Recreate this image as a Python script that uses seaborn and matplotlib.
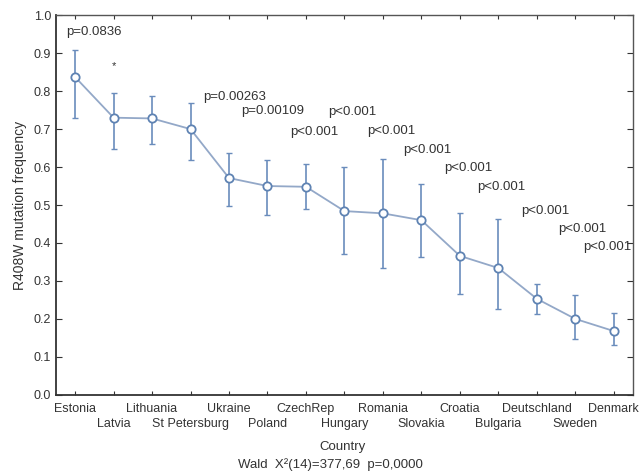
import matplotlib
matplotlib.use('Agg')
import numpy as np
import pandas as pd
import seaborn as sns
import matplotlib.pyplot as plt

## data
countries = ['Estonia', 'Latvia', 'Lithuania', 'St Petersburg', 'Ukraine', 'Poland',
             'CzechRep', 'Hungary', 'Romania', 'Slovakia', 'Croatia', 'Bulgaria',
             'Deutschland', 'Sweden', 'Denmark']
freq  = [0.837, 0.730, 0.728, 0.700, 0.571, 0.550, 0.548, 0.484, 0.478, 0.460,
         0.366, 0.334, 0.253, 0.200, 0.168]
upper = [0.908, 0.795, 0.787, 0.768, 0.637, 0.618, 0.608, 0.600, 0.621, 0.555,
         0.479, 0.463, 0.292, 0.263, 0.216]
lower = [0.730, 0.647, 0.660, 0.618, 0.497, 0.474, 0.490, 0.371, 0.335, 0.363,
         0.266, 0.226, 0.213, 0.147, 0.130]

p_labels = ['p=0.0836', 'p=0.00263', 'p=0.00109', 'p<0.001', 'p<0.001', 'p<0.001',
            'p<0.001', 'p<0.001', 'p<0.001', 'p<0.001', 'p<0.001', 'p<0.001']
p_x = [-0.23, 3.32, 4.31, 5.58, 6.57, 7.58, 8.52, 9.58, 10.44, 11.6, 12.55, 13.2]
p_y = [0.955, 0.784, 0.747, 0.692, 0.745, 0.695, 0.645, 0.598, 0.548, 0.485, 0.437, 0.39]

yticks = [0.0, 0.1, 0.2, 0.3, 0.4, 0.5, 0.6, 0.7, 0.8, 0.9, 1.0]

sns.set_style('white')
plt.rcParams['font.family'] = ['Liberation Sans', 'DejaVu Sans']

df = pd.DataFrame({'Country': countries, 'freq': freq})
fig = plt.figure(figsize=(6.42, 4.74), dpi=100)
ax = fig.add_axes([0.087, 0.167, 0.899, 0.801])

line_c = '#93a8c8'
mark_c = '#5f83b3'

x = np.arange(len(countries))
y = np.array(freq)
err = np.vstack([y - np.array(lower), np.array(upper) - y])
ax.errorbar(x, y, yerr=err, fmt='none', ecolor='#6a8cbc', elinewidth=1.2,
            capsize=2, capthick=1.0, zorder=2)
sns.lineplot(data=df, x=np.arange(len(countries)), y='freq', ax=ax, color=line_c,
             lw=1.3, marker='o', markersize=6, markerfacecolor='white',
             markeredgecolor=mark_c, markeredgewidth=1.3, zorder=3)

for t, px, py in zip(p_labels, p_x, p_y):
  ax.text(px, py, t, fontsize=9.5, color='#333333', va='center', ha='left')
ax.text(1.0, 0.866, '*', fontsize=8, color='#333333', va='center', ha='center')

ax.set_xlim(-0.5, len(countries) - 0.5)
ax.set_ylim(0, 1.0)
ax.set_yticks(yticks)
ax.set_yticklabels(['{0:.1f}'.format(v) for v in yticks], fontsize=9, color='#333333')
ax.set_xticks(x)
ax.set_xticklabels(countries, fontsize=9, color='#333333')
ax.set_xlabel('')
ax.set_ylabel('R408W mutation frequency', fontsize=10, color='#333333', labelpad=5)

ax.tick_params(axis='y', direction='out', length=4, color='#333333', left=True)
ax.tick_params(axis='x', direction='in', length=3, color='#333333', bottom=True, pad=6)
ax.tick_params(axis='y', which='both', right=True, direction='in')
ax.tick_params(axis='x', top=True)
## alternate the country labels on two rows
for i, tk in enumerate(ax.xaxis.get_major_ticks()):
  if i % 2 == 1:
    tk.set_pad(17)
for s in ['left', 'bottom']:
  ax.spines[s].set_color('#333333')
  ax.spines[s].set_linewidth(1.3)
for s in ['top', 'right']:
  ax.spines[s].set_color('#555555')
  ax.spines[s].set_linewidth(1.0)

fig.text(0.533, 0.057, 'Country', fontsize=9.5, color='#333333', ha='center', va='center')
fig.text(0.514, 0.019, 'Wald  X\u00b2(14)=377,69  p=0,0000', fontsize=9.5,
         color='#333333', ha='center', va='center')

plt.savefig('out.png', dpi=100)
